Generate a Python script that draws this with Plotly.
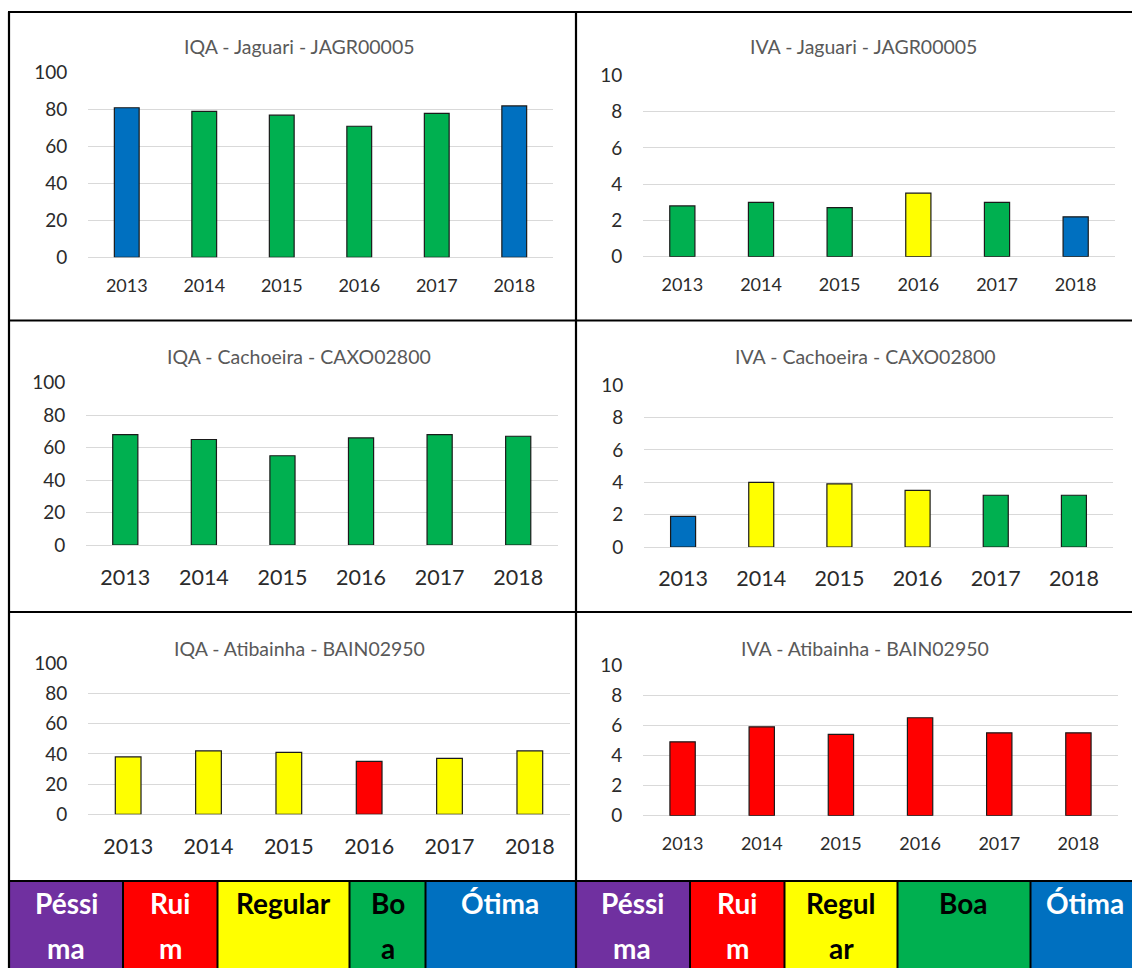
import plotly.graph_objects as go

# ---------------------------------------------------------------- data
years = ["2013", "2014", "2015", "2016", "2017", "2018"]

iqa_jaguari = [81, 79, 77, 71, 78, 82]
iva_jaguari = [2.8, 3.0, 2.7, 3.5, 3.0, 2.2]
iqa_cachoeira = [68, 65, 55, 66, 68, 67]
iva_cachoeira = [1.9, 4.0, 3.9, 3.5, 3.2, 3.2]
iqa_atibainha = [38, 42, 41, 35, 37, 42]
iva_atibainha = [4.9, 5.9, 5.4, 6.5, 5.5, 5.5]

chart_titles = [
    "IQA - Jaguari - JAGR00005",
    "IVA - Jaguari - JAGR00005",
    "IQA - Cachoeira - CAXO02800",
    "IVA - Cachoeira - CAXO02800",
    "IQA - Atibainha - BAIN02950",
    "IVA - Atibainha - BAIN02950",
]

# quality classes, worst to best
class_labels = ["Péssima", "Ruim", "Regular", "Boa", "Ótima"]
class_colors = ["#7030A0", "#FF0000", "#FFFF00", "#00B050", "#0070C0"]
class_text_colors = ["white", "white", "black", "black", "white"]

# class upper limits (IQA: higher is better) / lower limits (IVA: lower is better)
iqa_limits = [19, 36, 51, 79]
iva_limits = [6.7, 4.5, 3.3, 2.5]


def iqa_class(v):
    for i, lim in enumerate(iqa_limits):
        if v <= lim:
            return i
    return 4


def iva_class(v):
    for i, lim in enumerate(iva_limits):
        if v > lim:
            return i
    return 4


# ---------------------------------------------------------------- layout
W, H = 1132, 968
FONT = "Lato"


def fx(px):
    return px / W


def fy(py):
    return 1 - py / H


# panel geometry in pixels: plot left, plot right, y of top gridline, y of zero line,
# title centre x/y, y tick size, x tick size, x tick gap
panels = [
    dict(vals=iqa_jaguari, kind="iqa", x0=88, x1=553, yt=72.7, yb=257.3, tx=299, ty=46.7, ys=19, xs=18, xl=12),
    dict(vals=iva_jaguari, kind="iva", x0=643, x1=1115, yt=75.3, yb=256.7, tx=863, ty=46.7, ys=19, xs=18, xl=12),
    dict(vals=iqa_cachoeira, kind="iqa", x0=86, x1=557.5, yt=382.7, yb=545, tx=299, ty=356, ys=19, xs=21.5, xl=13),
    dict(vals=iva_cachoeira, kind="iva", x0=644, x1=1113, yt=385.3, yb=547, tx=865, ty=356, ys=19, xs=21.5, xl=12),
    dict(vals=iqa_atibainha, kind="iqa", x0=88, x1=570, yt=663.3, yb=814.3, tx=299, ty=648, ys=19, xs=21.5, xl=13),
    dict(vals=iva_atibainha, kind="iva", x0=643, x1=1118, yt=665, yb=815.7, tx=865, ty=648, ys=19, xs=18, xl=12),
]

fig = go.Figure()
annotations = []
axes = {}

for i, (p, title) in enumerate(zip(panels, chart_titles), start=1):
    sfx = "" if i == 1 else str(i)
    classify = iqa_class if p["kind"] == "iqa" else iva_class
    colors = [class_colors[classify(v)] for v in p["vals"]]
    ymax, dtick = (100, 20) if p["kind"] == "iqa" else (10, 2)

    fig.add_trace(go.Bar(
        x=years, y=p["vals"], width=0.32,
        marker=dict(color=colors, line=dict(color="#1a1a1a", width=1.2)),
        xaxis="x" + sfx, yaxis="y" + sfx, showlegend=False, hoverinfo="x+y",
    ))

    axes["xaxis" + sfx] = dict(
        domain=[fx(p["x0"]), fx(p["x1"])], anchor="y" + sfx, type="category",
        range=[-0.5, 5.5], showgrid=False, showline=False, zeroline=False,
        automargin=False,
        ticks="outside", ticklen=p["xl"], tickcolor="rgba(0,0,0,0)",
        tickfont=dict(family=FONT, size=p["xs"], color="#2b2b2b"), fixedrange=True,
    )
    axes["yaxis" + sfx] = dict(
        domain=[fy(p["yb"]), fy(p["yt"])], anchor="x" + sfx,
        range=[0, ymax], dtick=dtick, showgrid=True, gridcolor="#D9D9D9", gridwidth=1,
        zeroline=True, zerolinecolor="#D9D9D9", zerolinewidth=1, showline=False,
        automargin=False,
        ticks="outside", ticklen=16, tickcolor="rgba(0,0,0,0)",
        tickfont=dict(family=FONT, size=p["ys"], color="#2b2b2b"), fixedrange=True,
    )
    annotations.append(dict(
        text=title, x=fx(p["tx"]), y=fy(p["ty"]), xref="paper", yref="paper",
        xanchor="center", yanchor="middle", showarrow=False,
        font=dict(family=FONT, size=19.5, color="#595959"),
    ))

# ---------------------------------------------------------------- class key strips
shapes = []
key_top, key_bottom = 882, 968
# cell edges (px), label centres, and the character index where a label wraps
key_strips = [
    dict(edges=[10, 123, 217.5, 349.5, 425.5, 576], text_x=[66, 170, 283, 388, 500],
         breaks=[5, 3, None, 2, None]),
    dict(edges=[577, 690, 784.5, 897.5, 1030.5, 1170], text_x=[632, 737, 841, 964, 1085],
         breaks=[5, 3, 5, None, None]),
]
line1_y, line2_y = 903, 948

for strip in key_strips:
    e = strip["edges"]
    for k, label in enumerate(class_labels):
        shapes.append(dict(type="rect", xref="paper", yref="paper",
                           x0=fx(e[k]), x1=fx(e[k + 1]), y0=fy(key_bottom), y1=fy(key_top),
                           fillcolor=class_colors[k], line=dict(width=0), layer="below"))
        b = strip["breaks"][k]
        parts = [label] if b is None else [label[:b], label[b:]]
        for j, part in enumerate(parts):
            annotations.append(dict(
                text="<b>" + part + "</b>", x=fx(strip["text_x"][k]),
                y=fy(line1_y if j == 0 else line2_y), xref="paper", yref="paper",
                xanchor="center", yanchor="middle", showarrow=False,
                font=dict(family=FONT, size=28, color=class_text_colors[k]),
            ))
    for xe in e[1:-1]:
        shapes.append(dict(type="line", xref="paper", yref="paper",
                           x0=fx(xe), x1=fx(xe), y0=fy(key_bottom), y1=fy(key_top),
                           line=dict(color="black", width=2)))

# ---------------------------------------------------------------- table frame
frame = [
    (8, 12, 1140, 12),        # top
    (9, 12, 9, 968),          # left
    (576, 12, 576, 968),      # centre divider
    (8, 320.5, 1140, 320.5),  # row dividers
    (8, 612, 1140, 612),
    (8, 881, 1140, 881),
]
for x0, y0, x1, y1 in frame:
    shapes.append(dict(type="line", xref="paper", yref="paper",
                       x0=fx(x0), x1=fx(x1), y0=fy(y0), y1=fy(y1),
                       line=dict(color="black", width=2.2)))

fig.update_layout(
    width=W, height=H, margin=dict(l=0, r=0, t=0, b=0, pad=0, autoexpand=False),
    paper_bgcolor="white", plot_bgcolor="white",
    showlegend=False, annotations=annotations, shapes=shapes,
    font=dict(family=FONT),
    **axes,
)

fig.write_html("out.html", config={"displayModeBar": False})
